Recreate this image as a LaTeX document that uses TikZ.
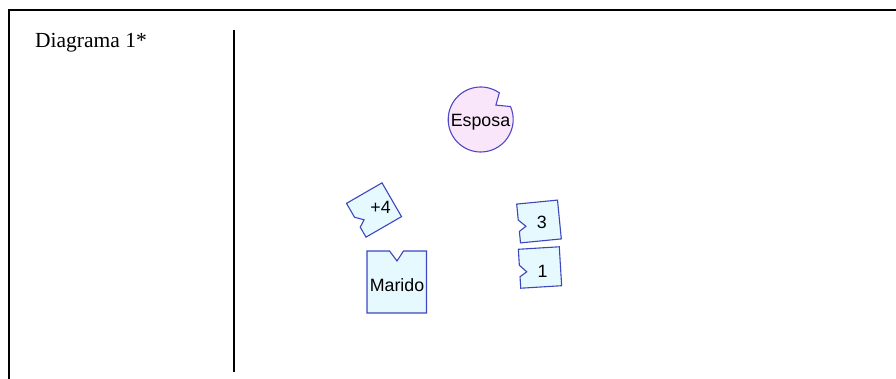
\documentclass[tikz,border=0pt]{standalone}
\usepackage{fontspec}
\setmainfont{Liberation Serif}
\newfontfamily\pieceFont{Liberation Sans}
\definecolor{pieceFill}{RGB}{230,249,255}
\definecolor{pieceDraw}{RGB}{60,70,190}
\definecolor{wifeFill}{RGB}{250,230,250}
\definecolor{wifeDraw}{RGB}{80,70,200}
\begin{document}
\begin{tikzpicture}[x=1pt,y=-1pt,
  piece/.style={fill=pieceFill, draw=pieceDraw, line width=1.1pt, line join=miter},
  wife/.style={fill=wifeFill, draw=wifeDraw, line width=1.1pt},
  lbl/.style={font=\pieceFont\fontsize{17.8}{17.8}\selectfont, inner sep=0pt, anchor=base},
  frameline/.style={line width=2.4pt, line join=miter},
  divider/.style={line width=2.8pt},
  puzzle/.pic={
    \path[piece] (-20.5,-19.5) -- (20.5,-19.5) -- (20.5,19.5) -- (-20.5,19.5)
      -- (-20.5,8) -- (-13.5,3.5) -- (-20.5,-3.5) -- cycle;
  }]
\useasboundingbox (0,0) rectangle (896,379);
% frame
\coordinate (frameTR) at (897,10);
\coordinate (frameTL) at (9,10);
\coordinate (frameBL) at (9,380);
\draw[frameline] (frameTR) -- (frameTL) -- (frameBL);
\coordinate (divTop) at (234,30);
\coordinate (divBot) at (234,372);
\draw[divider] (divTop) -- (divBot);
\node[anchor=base west, inner sep=0pt, font=\fontsize{21.5}{21.5}\selectfont] (title) at (35,48) {Diagrama 1*};
% Esposa
\begin{scope}[shift={(480.7,119.5)}, x=1pt, y=1pt]
  \path[wife] (55:32.5) arc[start angle=55, end angle=383.5, radius=32.5] -- (15.2,14.4) -- cycle;
\end{scope}
\node[lbl] (esposa) at (480.5,126.5) {Esposa};
% Marido
\path[piece] (367,251) -- (389.5,251) -- (397,261) -- (403.5,251) -- (426.5,251)
  -- (426.5,313) -- (367,313) -- cycle;
\node[lbl] (marido) at (397,291.5) {Marido};
% puzzle pieces
\pic[rotate=30] at (374,210) {puzzle};
\node[lbl] (plus4) at (380.5,213.5) {+4};
\pic[rotate=5.6] at (539,221.5) {puzzle};
\node[lbl] (three) at (541.7,228.3) {3};
\pic[rotate=3.5] at (540,267.5) {puzzle};
\node[lbl] (one) at (542.5,277) {1};
\end{tikzpicture}
\end{document}
